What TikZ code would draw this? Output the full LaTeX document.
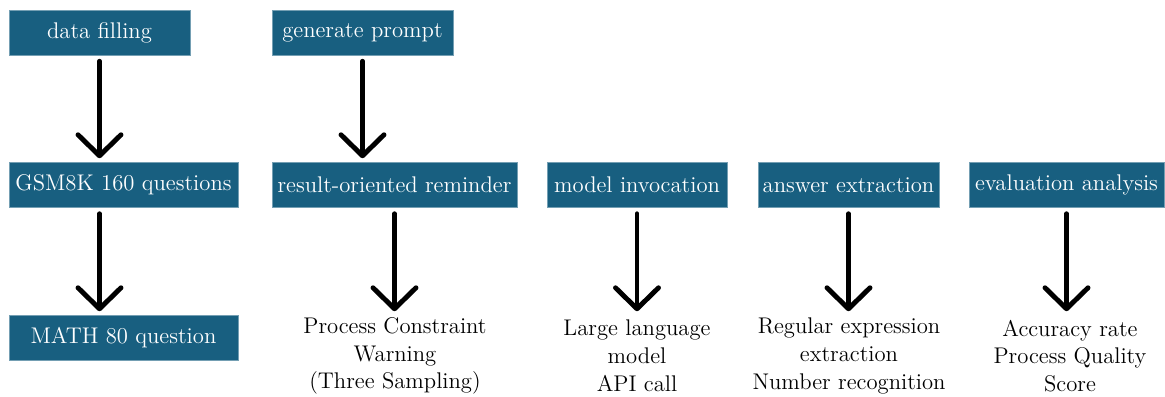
\documentclass[tikz,border=0pt]{standalone}
\usetikzlibrary{arrows.meta}
\definecolor{stepblue}{RGB}{24,95,128}
\begin{document}
\begin{tikzpicture}[
    stepbox/.style={fill=stepblue,draw=stepblue!60!white,line width=0.3pt,text=white,minimum height=0.9cm,inner sep=0pt},
    flow/.style={line width=2.8pt,line cap=round,-{Straight Barb[length=0.42cm,width=0.86cm,line cap=round,line join=round]},shorten <=0.12cm,shorten >=0.08cm},
    note/.style={align=center,inner sep=0pt}]
            \useasboundingbox (0,0) rectangle (23.3,-7.94);
            \fontsize{12.9}{15.8}\selectfont
            \draw (1.99,-0.65) node[stepbox,minimum width=3.62cm] (fill) {data filling};
            \draw (7.25,-0.65) node[stepbox,minimum width=3.62cm] (prompt) {generate prompt};
            \draw (2.47,-3.7) node[stepbox,minimum width=4.58cm] (gsm) {GSM8K 160 questions};
            \draw (7.89,-3.7) node[stepbox,minimum width=4.9cm] (remind) {result-oriented reminder};
            \draw (12.74,-3.7) node[stepbox,minimum width=3.6cm] (invoke) {model invocation};
            \draw (16.97,-3.7) node[stepbox,minimum width=3.62cm] (extract) {answer extraction};
            \draw (21.33,-3.7) node[stepbox,minimum width=3.9cm] (eval) {evaluation analysis};
            \draw (2.47,-6.76) node[stepbox,minimum width=4.58cm] (math) {MATH 80 question};

            \draw (7.9,-7.12) node[note] (warn) {Process Constraint\\Warning\\(Three Sampling)};
            \draw (12.74,-7.12) node[note] (llm) {Large language\\model\\API call};
            \draw (16.98,-7.12) node[note] (regex) {Regular expression\\extraction\\Number recognition};
            \draw (21.4,-7.12) node[note] (score) {Accuracy rate\\Process Quality\\Score};

            \draw[flow] (fill.south) -- (fill.south |- gsm.north);
            \draw[flow] (prompt.south) -- (prompt.south |- remind.north);
            \draw[flow] (fill.south |- gsm.south) -- (fill.south |- math.north);
            \draw[flow] (remind.south) -- (remind.south |- math.north);
            \draw[flow] (invoke.south) -- (invoke.south |- math.north);
            \draw[flow] (extract.south) -- (extract.south |- math.north);
            \draw[flow] (eval.south) -- (eval.south |- math.north);
        \end{tikzpicture}
\end{document}
